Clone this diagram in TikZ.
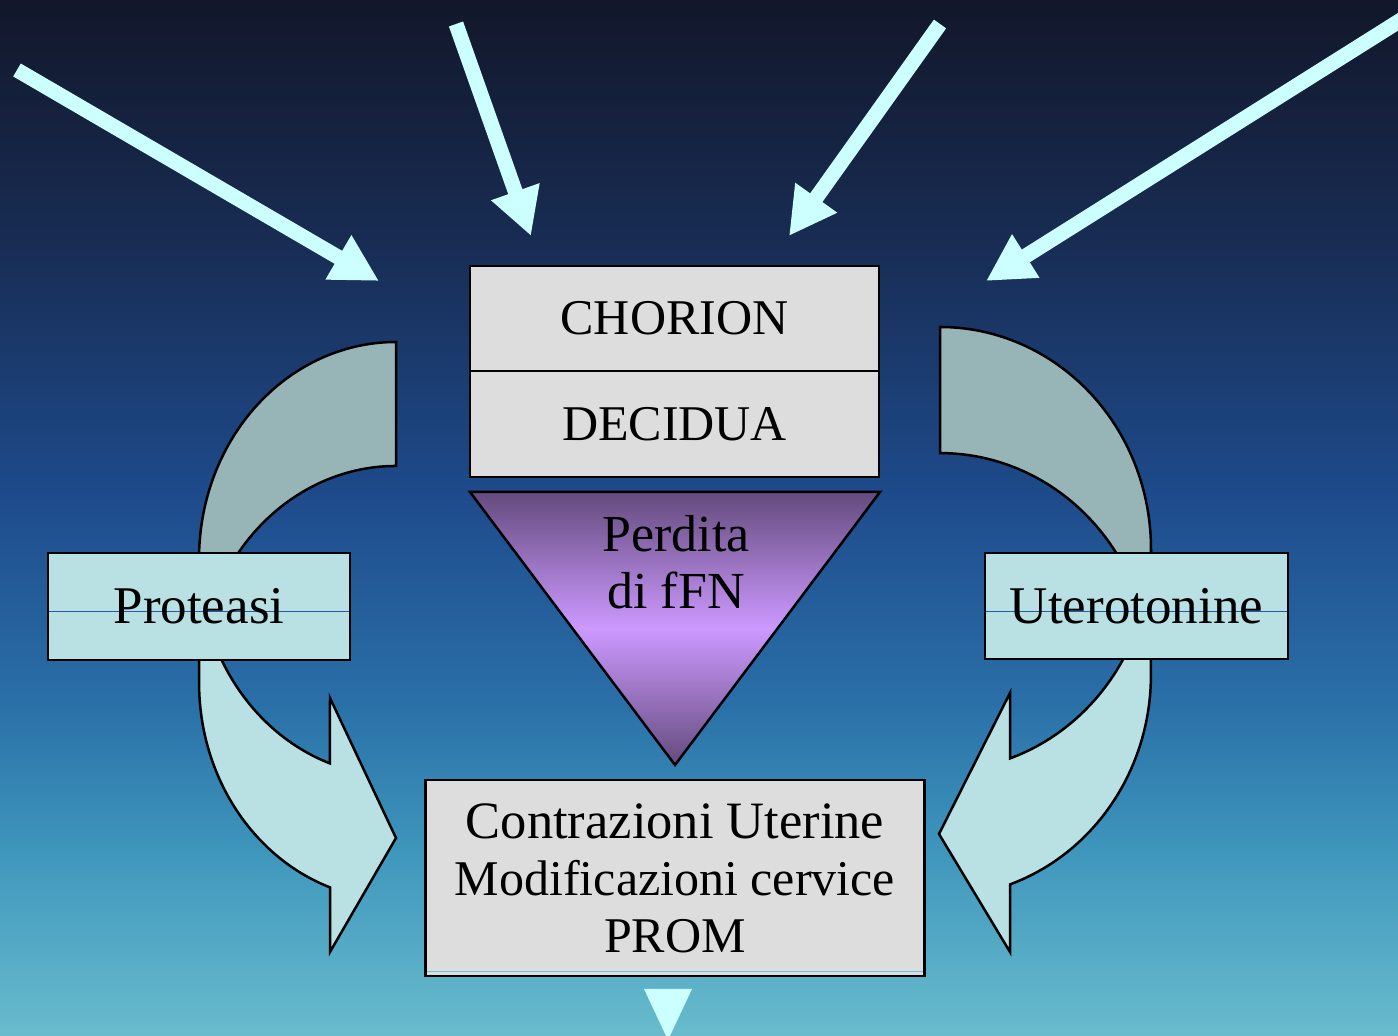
\documentclass[tikz,border=0pt]{standalone}
\usepackage{fontspec}
\setmainfont{Liberation Serif}
\usetikzlibrary{arrows.meta}

\definecolor{bgA}{RGB}{105,188,205}
\definecolor{bgB}{RGB}{62,150,188}
\definecolor{bgC}{RGB}{42,112,168}
\definecolor{bgD}{RGB}{30,75,140}
\definecolor{bgE}{RGB}{24,45,85}
\definecolor{bgF}{RGB}{18,23,42}
\definecolor{arrowcyan}{RGB}{204,255,255}
\definecolor{boxgray}{RGB}{221,221,221}
\definecolor{lightteal}{RGB}{185,224,227}
\definecolor{darkteal}{RGB}{151,181,183}
\definecolor{purpledark}{RGB}{100,75,125}
\definecolor{purplelight}{RGB}{204,153,255}
\definecolor{thinblue}{RGB}{40,90,170}
\definecolor{thincyan}{RGB}{110,195,215}

\pgfdeclareverticalshading{bgshade}{100bp}{color(0bp)=(bgA); color(25bp)=(bgA); color(34bp)=(bgB); color(41bp)=(bgC); color(51bp)=(bgD); color(63bp)=(bgE); color(75bp)=(bgF); color(100bp)=(bgF)}
\pgfdeclareverticalshading{purpleshade}{100bp}{color(0bp)=(purpledark); color(25bp)=(purpledark); color(50bp)=(purplelight); color(75bp)=(purpledark); color(100bp)=(purpledark)}

\tikzset{
  cyanarrow/.style={draw=arrowcyan, line width=15pt, -{Triangle[length=47pt,width=48pt]}},
  graybox/.style={draw=black, line width=2.5pt, fill=boxgray, inner sep=0pt, text=black,
                  font=\fontsize{50}{57}\selectfont},
  tealbox/.style={draw=black, line width=2.5pt, fill=lightteal, inner sep=0pt, text=black,
                  font=\fontsize{53}{60}\selectfont},
  curvelight/.style={fill=lightteal, draw=black, line width=2.5pt, line join=miter},
  curvedark/.style={fill=darkteal, draw=black, line width=2.5pt, line join=miter},
  txtlabel/.style={inner sep=0pt, text=black, align=center},
}

\begin{document}
\begin{tikzpicture}[x=1pt,y=1pt]
\useasboundingbox (0,0) rectangle (1398,1036);
\clip (0,0) rectangle (1398,1036);
\shade[shading=bgshade] (0,0) rectangle (1398,1036);

% incoming arrows
\coordinate (t1) at (17,966);   \coordinate (h1) at (379,755);
\coordinate (t2) at (456,1012); \coordinate (h2) at (531,800);
\coordinate (t3) at (940,1012); \coordinate (h3) at (789,800);
\coordinate (t4) at (1420,1028);\coordinate (h4) at (986,755);
\draw[cyanarrow] (t1) -- (h1);
\draw[cyanarrow] (t2) -- (h2);
\draw[cyanarrow] (t3) -- (h3);
\draw[cyanarrow] (t4) -- (h4);

% left curved arrow
\path[curvelight] (199,477) arc[start angle=180, end angle=250.4, x radius=197, y radius=217]
  -- (330,338) -- (396,198) -- (330,84) -- (330,148.6)
  arc[start angle=250.4, end angle=180, x radius=197, y radius=217] -- cycle;
\path[curvedark] (396,694) arc[start angle=90, end angle=196.6, x radius=197, y radius=217]
  arc[start angle=163.4, end angle=90, x radius=197, y radius=217] -- cycle;

% right curved arrow
\path[curvelight] (1151,487) arc[start angle=0, end angle=-70.6, x radius=211, y radius=222]
  -- (1010,343) -- (939,202) -- (1010,84) -- (1010,151.6)
  arc[start angle=-70.6, end angle=0, x radius=211, y radius=222] -- cycle;
\path[curvedark] (940,709) arc[start angle=90, end angle=-16.5, x radius=211, y radius=222]
  arc[start angle=16.5, end angle=90, x radius=211, y radius=222] -- cycle;

% central boxes
\node[graybox, minimum width=409pt, minimum height=105pt] (chorion) at (674.5,717.5) {CHORION};
\node[graybox, minimum width=409pt, minimum height=106pt] (decidua) at (674.5,612) {DECIDUA};

% triangle
\shade[shading=purpleshade, draw=black, line width=2.5pt, line join=miter]
  (470,544) -- (880,544) -- (675,271) -- cycle;
\node[txtlabel, font=\fontsize{52}{57}\selectfont] (perdita) at (676,474) {Perdita\\di fFN};

% side boxes
\node[tealbox, minimum width=302pt, minimum height=107pt,
  path picture={\draw[thinblue, line width=1pt] ([yshift=-5.5pt]path picture bounding box.west) -- ([yshift=-5.5pt]path picture bounding box.east);}]
  (proteasi) at (199,429.5) {Proteasi};
\node[tealbox, minimum width=303pt, minimum height=106pt,
  path picture={\draw[thinblue, line width=1pt] ([yshift=-6pt]path picture bounding box.west) -- ([yshift=-6pt]path picture bounding box.east);}]
  (uterotonine) at (1136.5,430) {Uterotonine};

% result box
\node[graybox, minimum width=499pt, minimum height=196pt, align=center,
  path picture={\draw[thincyan, line width=1pt] ([yshift=-94pt]path picture bounding box.west) -- ([yshift=-94pt]path picture bounding box.east);}]
  (result) at (675,158) {\fontsize{52.5}{57}\selectfont Contrazioni Uterine\\ Modificazioni cervice\\ \fontsize{50}{57}\selectfont PROM};

% small outgoing arrow head
\fill[arrowcyan] (644,47) -- (692,47) -- (668,-4) -- cycle;
\end{tikzpicture}
\end{document}
